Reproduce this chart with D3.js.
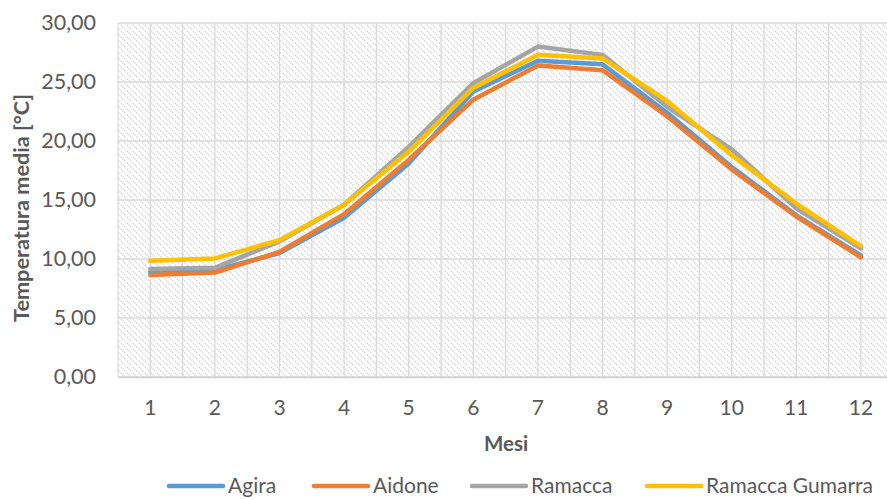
<!DOCTYPE html>
<html lang="it">
    <head>
        <meta charset="utf-8">
        <title>Temperatura media</title>
        <script type="text/javascript" src="https://d3js.org/d3.v7.min.js"></script>
        <style type="text/css">
            body { margin: 0; background: white; }
            text {
                font-family: Lato, "Open Sans", sans-serif;
                fill: #595959;
            }
        </style>
    </head>
    <body>
        <script type="text/javascript">

        // Dati
        var mesi = [1, 2, 3, 4, 5, 6, 7, 8, 9, 10, 11, 12];
        var agira   = [8.9, 9.05, 10.5, 13.5, 18.1, 24.2, 26.8, 26.5, 22.4, 17.8, 13.7, 10.3];
        var aidone  = [8.65, 8.85, 10.6, 13.8, 18.4, 23.5, 26.4, 26.0, 22.1, 17.6, 13.6, 10.15];
        var ramacca = [9.15, 9.25, 11.5, 14.6, 19.5, 24.9, 28.0, 27.3, 22.9, 19.3, 14.3, 10.9];
        var gumarra = [9.85, 10.05, 11.6, 14.6, 19.1, 24.5, 27.3, 27.0, 23.4, 18.8, 14.7, 11.1];
        var yTicks = [0, 5, 10, 15, 20, 25, 30];

        var serie = [
            {nome: "Agira", valori: agira, colore: "#5B9BD5"},
            {nome: "Aidone", valori: aidone, colore: "#ED7D31"},
            {nome: "Ramacca", valori: ramacca, colore: "#A5A5A5"},
            {nome: "Ramacca Gumarra", valori: gumarra, colore: "#FFC000"}
        ];

        var w = 887;
        var h = 499;
        var pLeft = 118, pTop = 23, pBottom = 377;
        var catW = 64.6;
        var pRight = pLeft + catW * mesi.length;

        var svg = d3.select("body")
                    .append("svg")
                    .attr("width", w)
                    .attr("height", h);

        // Tratteggio sfondo
        var pat = svg.append("defs").append("pattern")
            .attr("id", "hatch")
            .attr("patternUnits", "userSpaceOnUse")
            .attr("width", 6)
            .attr("height", 6);
        pat.append("rect").attr("width", 6).attr("height", 6).attr("fill", "white");
        pat.append("path")
            .attr("d", "M-1,-1 L7,7 M-1,5 L1,7 M5,-1 L7,1")
            .attr("stroke", "#dcdcdc")
            .attr("stroke-width", 1.6)
            .attr("stroke-dasharray", "1.5,1");

        var x = d3.scaleBand().domain(mesi).range([pLeft, pRight]);
        var y = d3.scaleLinear().domain([0, 30]).range([pBottom, pTop]);

        svg.append("rect")
            .attr("x", pLeft).attr("y", pTop)
            .attr("width", pRight - pLeft).attr("height", pBottom - pTop)
            .attr("fill", "url(#hatch)");

        // Griglia
        var vGrid = [];
        mesi.forEach(function(m) {
            vGrid.push(x(m));
            vGrid.push(x(m) + x.bandwidth() / 2);
        });
        svg.selectAll("line.vg")
            .data(vGrid)
            .enter()
            .append("line")
            .attr("x1", function(d) { return d; })
            .attr("x2", function(d) { return d; })
            .attr("y1", pTop).attr("y2", pBottom)
            .attr("stroke", "#dadada")
            .attr("stroke-width", 1.3);

        svg.selectAll("line.hg")
            .data(yTicks)
            .enter()
            .append("line")
            .attr("x1", pLeft).attr("x2", pRight)
            .attr("y1", function(d) { return y(d); })
            .attr("y2", function(d) { return y(d); })
            .attr("stroke", "#dadada")
            .attr("stroke-width", 1.3);

        // Assi
        var fmt = function(d) { return d3.format(".2f")(d).replace(".", ","); };

        var yAxis = svg.append("g")
            .attr("transform", "translate(" + pLeft + ",0)")
            .call(d3.axisLeft(y).tickValues(yTicks).tickFormat(fmt).tickSize(0).tickPadding(22));
        yAxis.select(".domain").remove();
        yAxis.selectAll("text").style("font-size", "21.5px").attr("fill", "#595959");

        var xAxis = svg.append("g")
            .attr("transform", "translate(0," + pBottom + ")")
            .call(d3.axisBottom(x).tickSize(0).tickPadding(23));
        xAxis.select(".domain").attr("stroke", "#d0d0d0").attr("stroke-width", 1.5);
        xAxis.selectAll("text").style("font-size", "21px").attr("fill", "#595959");

        svg.append("text")
            .attr("x", 506).attr("y", 451)
            .attr("text-anchor", "middle")
            .style("font-size", "20.5px")
            .style("font-weight", "bold")
            .text("Mesi");

        svg.append("text")
            .attr("transform", "translate(29,208) rotate(-90)")
            .attr("text-anchor", "middle")
            .style("font-size", "20px")
            .style("font-weight", "bold")
            .attr("textLength", 228)
            .attr("lengthAdjust", "spacingAndGlyphs")
            .text("Temperatura media [°C]");

        // Linee
        var line = d3.line()
            .x(function(d, i) { return x(mesi[i]) + x.bandwidth() / 2; })
            .y(function(d) { return y(d); });

        svg.selectAll("path.serie")
            .data(serie)
            .enter()
            .append("path")
            .attr("class", "serie")
            .attr("fill", "none")
            .attr("stroke", function(d) { return d.colore; })
            .attr("stroke-width", 4.5)
            .attr("stroke-linejoin", "round")
            .attr("stroke-linecap", "round")
            .attr("d", function(d) { return line(d.valori); });

        // Legenda
        var legX = [169, 314, 472, 647];
        var leg = svg.selectAll("g.leg")
            .data(serie)
            .enter()
            .append("g")
            .attr("class", "leg")
            .attr("transform", function(d, i) { return "translate(" + legX[i] + ",486)"; });
        leg.append("line")
            .attr("x1", 0).attr("x2", 54)
            .attr("stroke", function(d) { return d.colore; })
            .attr("stroke-width", 4.5)
            .attr("stroke-linecap", "round");
        leg.append("text")
            .attr("x", 59).attr("dy", "0.33em")
            .style("font-size", "21px")
            .text(function(d) { return d.nome; });
        </script>
    </body>
</html>
